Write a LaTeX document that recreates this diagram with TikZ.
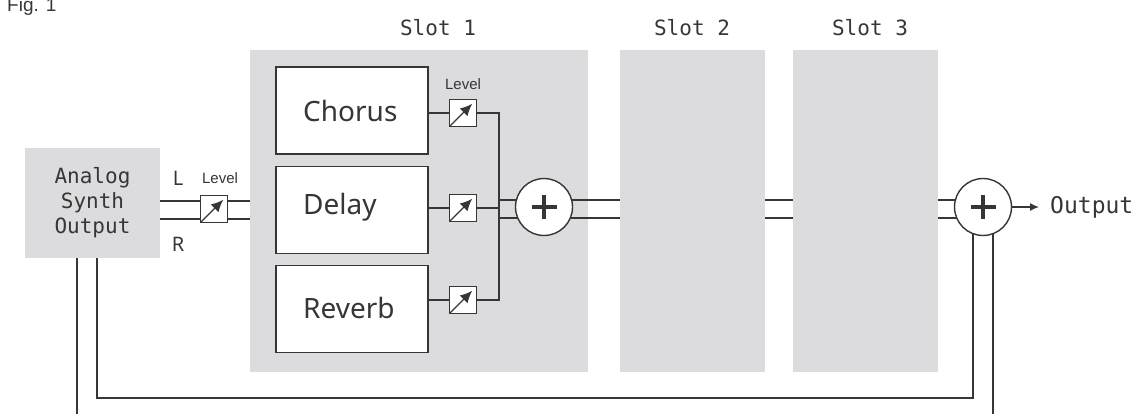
\documentclass[tikz,border=0pt]{standalone}
\usepackage{fontspec}
\setmainfont{Noto Sans}
\newfontfamily\monof{DejaVu Sans Mono}
\newfontfamily\arialf{Liberation Sans}
\usetikzlibrary{arrows.meta,calc}
\definecolor{slotgray}{HTML}{DCDCDE}
\definecolor{ink}{HTML}{363636}
\pgfdeclarelayer{bg}
\pgfdeclarelayer{wires}
\pgfsetlayers{bg,wires,main}
\tikzset{
  slotbox/.style={fill=slotgray, draw=none, inner sep=0pt},
  fxbox/.style={draw=ink, line width=1.6pt, fill=white, inner sep=0pt,
    minimum width=152pt, minimum height=87pt},
  fxtext/.style={anchor=west, inner sep=0pt, text=ink, font=\fontsize{28}{28}\selectfont},
  monotext/.style={text=ink, inner sep=0pt, font=\monof\fontsize{21}{25}\selectfont, align=center},
  smalltext/.style={text=ink, inner sep=0pt, font=\arialf\fontsize{15}{15}\selectfont},
  lrtext/.style={text=ink, inner sep=0pt, font=\fontsize{20}{20}\selectfont},
  wire/.style={draw=ink, line width=1.4pt},
  lvl/.style={draw=ink, line width=1.3pt, fill=white, inner sep=0pt, minimum size=27pt,
    path picture={\draw[ink, line width=1.3pt, -{Latex[length=12pt,width=11pt]}]
      (path picture bounding box.south west) --
      ($(path picture bounding box.south west)!0.84!(path picture bounding box.north east)$);}},
  sum/.style={circle, draw=ink, line width=1.4pt, fill=white, inner sep=0pt, minimum size=57pt,
    path picture={\draw[ink, line width=3.4pt]
      ([xshift=-12.5pt]path picture bounding box.center) -- ([xshift=12.5pt]path picture bounding box.center)
      ([yshift=-12pt]path picture bounding box.center) -- ([yshift=12pt]path picture bounding box.center);}}
}
\begin{document}
\begin{tikzpicture}[x=1pt,y=-1pt]
\useasboundingbox (0,0) rectangle (1145,414);
\begin{pgfonlayer}{bg}
  \node[slotbox, minimum width=135pt, minimum height=110pt] (synth) at (92.5,203) {};
  \node[slotbox, minimum width=338pt, minimum height=322pt] (slot1) at (419,211) {};
  \node[slotbox, minimum width=145pt, minimum height=322pt] (slot2) at (692.5,211) {};
  \node[slotbox, minimum width=145pt, minimum height=322pt] (slot3) at (865.5,211) {};
\end{pgfonlayer}

% texts
\node[anchor=base west, inner sep=0pt, text=ink, font=\arialf\fontsize{19}{19}\selectfont] (fig) at (7,12) {Fig. 1};
\node[monotext] (s1lbl) at (438,28) {Slot 1};
\node[monotext] (s2lbl) at (692,28) {Slot 2};
\node[monotext] (s3lbl) at (870,28) {Slot 3};
\node[monotext] (synthlbl) at (92.5,203) {Analog\\Synth\\Output};
\node[lrtext] (llbl) at (178,178) {L};
\node[lrtext] (rlbl) at (178,244) {R};
\node[smalltext] (lvlinlbl) at (220,178) {Level};
\node[smalltext] (lvlclbl) at (463,84) {Level};

% effect boxes
\node[fxbox] (chorus) at (352,110.5) {};
\node[fxbox] (delay) at (352,210) {};
\node[fxbox] (reverb) at (352,309) {};
\node[fxtext] (chorustxt) at (303,111) {Chorus};
\node[fxtext] (delaytxt) at (303,207) {Delay};
\node[fxtext] (reverbtxt) at (303,308) {Reverb};

% level boxes
\node[lvl] (lvlin) at (214,209) {};
\node[lvl] (lvlc) at (463,113) {};
\node[lvl] (lvld) at (463,208) {};
\node[lvl] (lvlr) at (463,300) {};

% sums
\node[sum] (sum1) at (544,207) {};
\node[sum] (sum2) at (983,207) {};
\node[anchor=west, inner sep=0pt, text=ink, font=\monof\fontsize{23}{23}\selectfont] (outlbl) at (1050,207) {Output};

\coordinate (bus) at (499,0);
\coordinate (arrtip) at (1039,207);
\coordinate (bot1) at (77,414);
\coordinate (bot2) at (993,414);
\coordinate (fbcorner) at (97,398);

\begin{pgfonlayer}{wires}
  % inputs
  \draw[wire] (synth.east |- 0,201) -- (slot1.west |- 0,201);
  \draw[wire] (synth.east |- 0,219) -- (slot1.west |- 0,219);
  % fx to level
  \draw[wire] (lvlc.west -| chorus.east) -- (lvlc.west);
  \draw[wire] (lvld.west -| delay.east) -- (lvld.west);
  \draw[wire] (lvlr.west -| reverb.east) -- (lvlr.west);
  % bus
  \draw[wire] (lvlc.east) -| (bus |- lvlr.east) -- (lvlr.east);
  \draw[wire] (lvld.east) -- (lvld.east -| bus);
  \draw[wire] (bus |- 0,200) -- (sum1.center |- 0,200);
  \draw[wire] (bus |- 0,218) -- (sum1.center |- 0,218);
  % chain
  \draw[wire] (sum1.center |- 0,200) -- (slot2.west |- 0,200);
  \draw[wire] (sum1.center |- 0,218) -- (slot2.west |- 0,218);
  \draw[wire] (slot2.east |- 0,200) -- (slot3.west |- 0,200);
  \draw[wire] (slot2.east |- 0,218) -- (slot3.west |- 0,218);
  \draw[wire] (slot3.east |- 0,200) -- (sum2.center |- 0,200);
  \draw[wire] (slot3.east |- 0,218) -- (sum2.center |- 0,218);
  % feedback
  \draw[wire] (synth.south -| fbcorner) -- (fbcorner) -| (sum2.center -| 973,0);
  \draw[wire] (synth.south -| bot1) -- (bot1);
  \draw[wire] (sum2.center -| bot2) -- (bot2);
\end{pgfonlayer}
\draw[wire, -{Latex[length=9pt,width=8pt]}] (sum2.east) -- (arrtip);
\end{tikzpicture}
\end{document}
